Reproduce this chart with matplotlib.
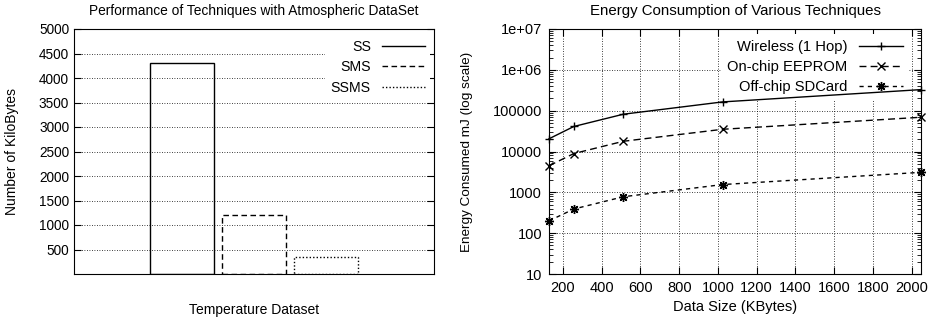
import matplotlib
matplotlib.use("Agg")
import matplotlib.pyplot as plt
from matplotlib.lines import Line2D
import numpy as np

plt.rcParams['font.family'] = ['Liberation Sans', 'DejaVu Sans']

# bar chart data
techniques = ["SS", "SMS", "SSMS"]
kilobytes = [4300, 1200, 340]
bar_styles = ["-", (0, (4, 2.5)), (0, (1, 1.5))]

# energy chart data
data_size = [128, 256, 512, 1024, 2048]
wireless = [20480, 40960, 81920, 163840, 327680]
eeprom = [4470, 8900, 17800, 35000, 69000]
sdcard = [200, 390, 780, 1550, 3090]
energy_labels = ["Wireless (1 Hop)", "On-chip EEPROM", "Off-chip SDCard"]

fig = plt.figure(figsize=(9.4, 3.21), dpi=100)

#### left chart
ax1 = fig.add_axes([74/940, 47/321, 360/940, 245/321])
pos = np.arange(len(techniques)) - 1
handles = []
for p, h, ls, lab in zip(pos, kilobytes, bar_styles, techniques):
    ax1.bar(p, h, width=0.9, fill=False, edgecolor='black', linestyle=ls,
            linewidth=1.0, zorder=3)
    handles.append(Line2D([], [], color='black', linestyle=ls, linewidth=1.0, label=lab))
ax1.set_xlim(-2.5, 2.5)
ax1.set_ylim(0, 5000)
ax1.set_yticks(range(500, 5001, 500))
ax1.set_xticks([])
ax1.yaxis.grid(True, linestyle=(0, (1, 2)), color='black', linewidth=0.6)
ax1.tick_params(axis='y', direction='in', right=True, labelsize=9.8, length=5)
ax1.set_title("Performance of Techniques with Atmospheric DataSet", fontsize=9.9, pad=10)
ax1.set_ylabel("Number of KiloBytes", fontsize=10, labelpad=14)
ax1.set_xlabel("Temperature Dataset", fontsize=10, labelpad=21)
leg1 = ax1.legend(handles=handles, loc='upper right', bbox_to_anchor=(0.99, 0.98),
                  borderaxespad=0, markerfirst=False, frameon=True,
                  fontsize=10.2, handlelength=3.0, labelspacing=0.48)
leg1.get_frame().set_edgecolor('none')
leg1.get_frame().set_facecolor('white')
leg1.get_frame().set_alpha(1)
leg1.set_zorder(2.5)

#### right chart
ax2 = fig.add_axes([549/940, 47/321, 372/940, 245/321])
ax2.plot(data_size, wireless, color='black', linestyle='-', marker='+',
         markersize=6, linewidth=1.0, label=energy_labels[0], clip_on=False, zorder=3)
ax2.plot(data_size, eeprom, color='black', linestyle=(0, (5, 3)), marker='x',
         markersize=6, linewidth=1.0, label=energy_labels[1], clip_on=False, zorder=3)
ax2.plot(data_size, sdcard, color='black', linestyle=(0, (3, 3)), marker=(8, 2, 0),
         markersize=6.5, linewidth=1.0, label=energy_labels[2], clip_on=False, zorder=3)
ax2.set_yscale('log')
ax2.set_xlim(128, 2048)
ax2.set_ylim(10, 1e7)
ax2.set_xticks(range(200, 2001, 200))
ax2.set_yticks([10, 100, 1000, 10000, 100000, 1e6, 1e7],
               ["10", "100", "1000", "10000", "100000", "1e+06", "1e+07"])
ax2.grid(True, which='major', linestyle=(0, (1, 2)), color='black', linewidth=0.6)
ax2.tick_params(which='both', direction='in', top=True, right=True, labelsize=10.5)
ax2.tick_params(which='major', length=5, pad=5)
ax2.tick_params(which='minor', length=3)
ax2.set_title("Energy Consumption of Various Techniques", fontsize=10.8, pad=10)
ax2.set_ylabel("Energy Consumed mJ (log scale)", fontsize=9.7, labelpad=14)
ax2.set_xlabel("Data Size (KBytes)", fontsize=10.5, labelpad=4)
leg2 = ax2.legend(loc='upper right', bbox_to_anchor=(0.968, 0.98), borderaxespad=0,
                  markerfirst=False, frameon=True, fontsize=10.6,
                  handlelength=3.0, labelspacing=0.42)
leg2.get_frame().set_edgecolor('none')
leg2.get_frame().set_facecolor('white')
leg2.get_frame().set_alpha(1)
leg2.set_zorder(2.5)

fig.savefig("out.png", dpi=100)
